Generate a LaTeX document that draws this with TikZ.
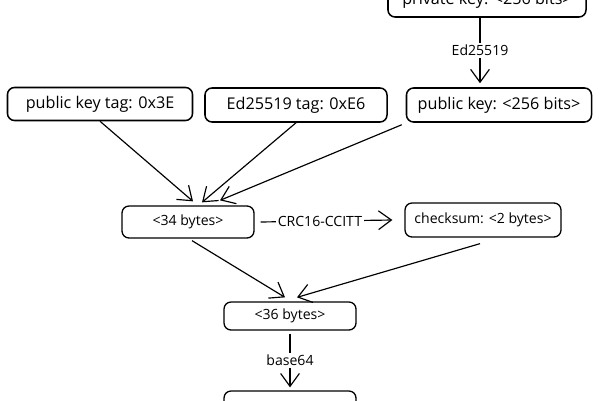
\documentclass[tikz,border=0pt]{standalone}
\usepackage{fontspec}
\setmainfont{Open Sans}
\usetikzlibrary{arrows.meta,positioning,calc}

\begin{document}
\begin{tikzpicture}[x=0.03cm,y=-0.03cm,
    box/.style={draw,line width=1.3pt,rounded corners=6pt,inner sep=0pt,
      font=\fontsize{13.8}{15}\selectfont},
    smallbox/.style={draw,line width=1.1pt,rounded corners=6pt,inner sep=0pt,
      font=\fontsize{12}{13}\selectfont},
    link/.style={line width=1pt,-{Straight Barb[length=11pt,width=16pt,line width=1pt]}},
    lbl/.style={fill=white,inner sep=1.5pt,font=\fontsize{12}{13}\selectfont}]
    \clip (0,0) rectangle (600,400);
    % Keys and tags:
    \node[box,minimum width=5.94cm,minimum height=1.02cm] (priv) at (487,0) {private key: <256 bits>};
    \node[box,minimum width=5.55cm,minimum height=0.99cm] (tag) at (100,104) {public key tag: 0x3E};
    \node[box,minimum width=5.46cm,minimum height=1.02cm] (edtag) at (296,105) {Ed25519 tag: 0xE6};
    \node[box,minimum width=5.55cm,minimum height=1.02cm] (pub) at (499,105) {public key: <256 bits>};
    % Bytes:
    \node[smallbox,minimum width=3.96cm,minimum height=0.96cm] (b34) at (188,222) {<34 bytes>};
    \node[smallbox,minimum width=4.68cm,minimum height=1.02cm] (sum) at (483,220) {checksum: <2 bytes>};
    \node[smallbox,minimum width=3.96cm,minimum height=0.84cm] (b36) at (290,316) {<36 bytes>};
    \node[smallbox,minimum width=3.96cm,minimum height=1.08cm] (out) at (290,409) {<48 characters>};
    % Arrows:
    \draw[link] (priv.south -| 480,0) -- ($(pub.north -| 480,0)+(0,-4)$)
      node[lbl,midway] {Ed25519};
    \draw[link] (tag.south) -- ($(b34.north)+(5,-4)$);
    \draw[link] (edtag.south) -- ($(b34.north)+(14,-3)$);
    \draw[link] (pub.south west)++(-4,2) -- ($(b34.north)+(32,-5)$);
    \draw[link] ($(b34.east)+(6,0)$) -- ($(sum.west)+(-12,0)$)
      node[lbl,pos=0.45] {CRC16-CCITT};
    \draw[link] ($(b34.south)+(4,2)$) -- ($(b36.north)+(-5,-4)$);
    \draw[link] ($(sum.south)+(-3,6)$) -- ($(b36.north)+(7,-4)$);
    \draw[link] ($(b36.south)+(0,3)$) -- ($(out.north)+(0,-3)$)
      node[lbl,midway] {base64};
\end{tikzpicture}
\end{document}
